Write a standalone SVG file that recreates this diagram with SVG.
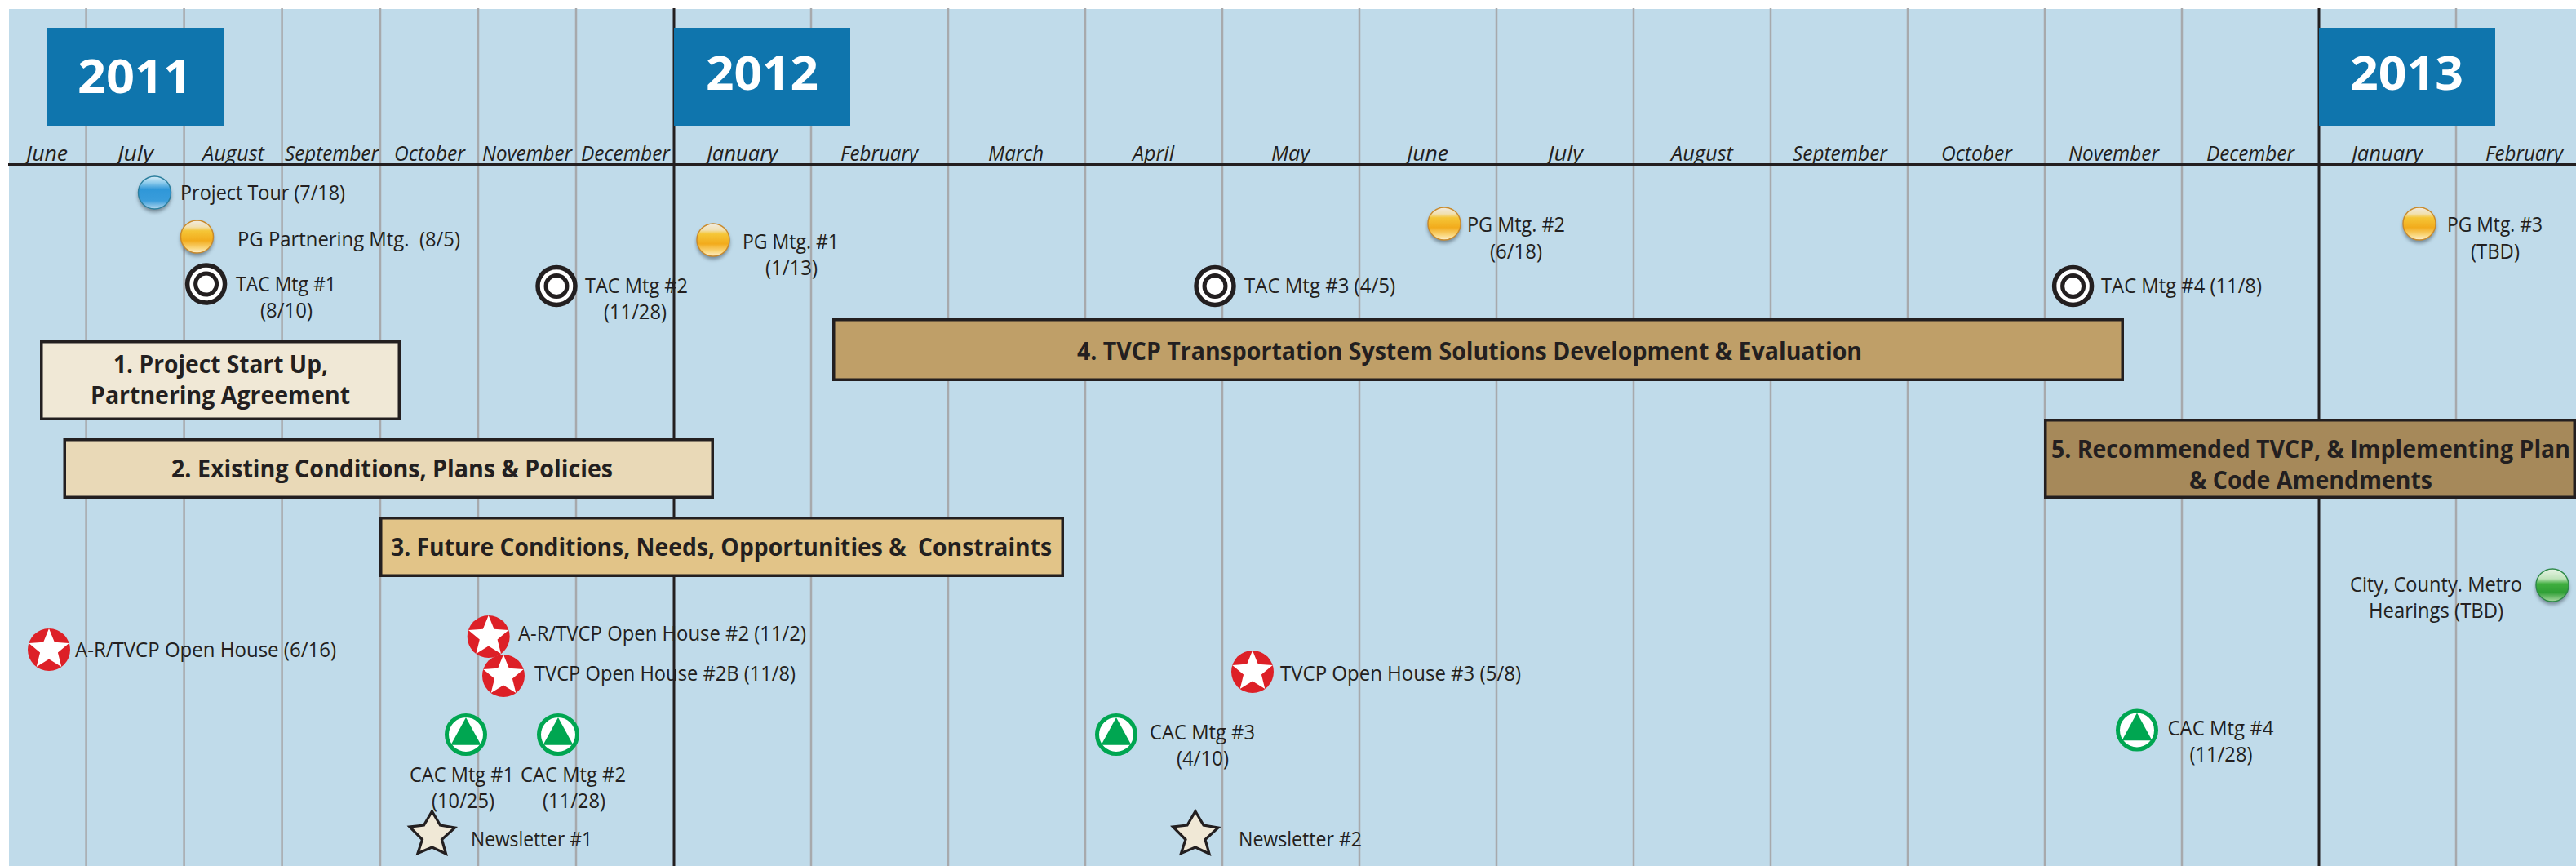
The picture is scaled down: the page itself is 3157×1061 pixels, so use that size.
<svg xmlns="http://www.w3.org/2000/svg" width="3157" height="1061" viewBox="0 0 3157 1061">
<style>
text{font-family:"Open Sans","Noto Sans","Liberation Sans",sans-serif;fill:#231f20;white-space:pre}
.l{font-size:25px}
.m{font-size:25px;font-style:italic}
.b{font-size:31px;font-weight:700}
.y{font-size:58px;font-weight:700;fill:#fff}
.g{stroke:#a7a9ac;stroke-width:2.5;fill:none}
.k{stroke:#231f20;stroke-width:3;fill:none}
.bar{stroke:#231f20;stroke-width:3.5}
.yb{fill:#0f75ad}
</style>
<defs>
<linearGradient id="gBlue" x1="0" y1="0" x2="0" y2="1"><stop offset="0" stop-color="#d8edf7"/><stop offset=".2" stop-color="#8ccbec"/><stop offset=".4" stop-color="#2f97d8"/><stop offset=".75" stop-color="#3a9ddb"/><stop offset="1" stop-color="#b4d8ee"/></linearGradient>
<linearGradient id="gOrange" x1="0" y1="0" x2="0" y2="1"><stop offset="0" stop-color="#f1ebe0"/><stop offset=".2" stop-color="#f1e0b0"/><stop offset=".32" stop-color="#f5c637"/><stop offset=".62" stop-color="#f2ab1c"/><stop offset=".85" stop-color="#fad67a"/><stop offset="1" stop-color="#fdf0cf"/></linearGradient>
<linearGradient id="gGreen" x1="0" y1="0" x2="0" y2="1"><stop offset="0" stop-color="#e8f4e6"/><stop offset=".3" stop-color="#bfe3ba"/><stop offset=".46" stop-color="#3fae3f"/><stop offset=".72" stop-color="#2f9f35"/><stop offset="1" stop-color="#a9d9a2"/></linearGradient>
<filter id="sh" x="-40%" y="-40%" width="180%" height="180%"><feGaussianBlur stdDeviation="2.2"/></filter>
<g id="ballShadow"><circle cx="0" cy="3.5" r="20.5" fill="#4a5a66" opacity=".6" filter="url(#sh)"/></g>
<g id="ballBlue"><use href="#ballShadow"/><circle r="20" fill="url(#gBlue)" stroke="#2b7f9e" stroke-width="1.4"/></g>
<g id="ballOrange"><use href="#ballShadow"/><circle r="20" fill="url(#gOrange)" stroke="#c98a2b" stroke-width="1.4"/></g>
<g id="ballGreen"><use href="#ballShadow"/><circle r="20" fill="url(#gGreen)" stroke="#2e8a48" stroke-width="1.4"/></g>
<g id="tac"><circle r="23" fill="#fff" stroke="#231f20" stroke-width="5.5"/><circle r="13" fill="#fff" stroke="#231f20" stroke-width="5"/></g>
<g id="oh"><circle r="26" fill="#dd2027"/><polygon fill="#fff" points="0,-26 6.8,-9.3 24.7,-8 10.9,3.6 15.3,21 0,11.5 -15.3,21 -10.9,3.6 -24.7,-8 -6.8,-9.3"/></g>
<g id="cac"><circle r="23.5" fill="#fff" stroke="#00a651" stroke-width="5"/><polygon fill="#00a651" points="0,-21 18.5,12.7 -18.5,12.7"/></g>
<polygon id="news" fill="#f0e8d6" stroke="#231f20" stroke-width="3.2" points="0,-26 10,-9 28,-6 12,8.5 17,26 0,18 -17.5,25.5 -12,8.5 -27.5,-7 -10,-9"/>
</defs>
<g id="background"><rect x="11" y="11" width="3146" height="1050" fill="#c0dbea"/></g>
<g id="grid">
<path class="g" d="M105.6 10V1061M225.6 10V1061M345.6 10V1061M466 10V1061M586 10V1061M706 10V1061M994 10V1061M1162 10V1061M1330 10V1061M1498 10V1061M1666 10V1061M1834 10V1061M2002 10V1061M2170 10V1061M2338 10V1061M2506 10V1061M2674 10V1061M3010 10V1061"/>
<path class="k" d="M826 10V1061M2842 10V1061"/>
<path class="k" stroke-width="3.5" d="M10 201.5H3157"/>
</g>
<g id="years">
<g id="year-2011"><rect class="yb" x="58" y="34" width="216" height="120"/><text class="y" x="95" y="114" textLength="140" lengthAdjust="spacingAndGlyphs">2011</text></g>
<g id="year-2012"><rect class="yb" x="826" y="34" width="216" height="120"/><text class="y" x="865" y="110" textLength="138" lengthAdjust="spacingAndGlyphs">2012</text></g>
<g id="year-2013"><rect class="yb" x="2842" y="34" width="216" height="120"/><text class="y" x="2880" y="110" textLength="139" lengthAdjust="spacingAndGlyphs">2013</text></g>
</g>
<g id="months">
<text class="m" x="32" y="197" textLength="51" lengthAdjust="spacingAndGlyphs">June</text>
<text class="m" x="144" y="197" textLength="44" lengthAdjust="spacingAndGlyphs">July</text>
<text class="m" x="248" y="197" textLength="76" lengthAdjust="spacingAndGlyphs">August</text>
<text class="m" x="349" y="197" textLength="115" lengthAdjust="spacingAndGlyphs">September</text>
<text class="m" x="483" y="197" textLength="87" lengthAdjust="spacingAndGlyphs">October</text>
<text class="m" x="591" y="197" textLength="110" lengthAdjust="spacingAndGlyphs">November</text>
<text class="m" x="712" y="197" textLength="109" lengthAdjust="spacingAndGlyphs">December</text>
<text class="m" x="866" y="197" textLength="87" lengthAdjust="spacingAndGlyphs">January</text>
<text class="m" x="1030" y="197" textLength="95" lengthAdjust="spacingAndGlyphs">February</text>
<text class="m" x="1211" y="197" textLength="68" lengthAdjust="spacingAndGlyphs">March</text>
<text class="m" x="1388" y="197" textLength="51" lengthAdjust="spacingAndGlyphs">April</text>
<text class="m" x="1558" y="197" textLength="47" lengthAdjust="spacingAndGlyphs">May</text>
<text class="m" x="1724" y="197" textLength="51" lengthAdjust="spacingAndGlyphs">June</text>
<text class="m" x="1897" y="197" textLength="43" lengthAdjust="spacingAndGlyphs">July</text>
<text class="m" x="2048" y="197" textLength="76" lengthAdjust="spacingAndGlyphs">August</text>
<text class="m" x="2197" y="197" textLength="116" lengthAdjust="spacingAndGlyphs">September</text>
<text class="m" x="2379" y="197" textLength="87" lengthAdjust="spacingAndGlyphs">October</text>
<text class="m" x="2535" y="197" textLength="111" lengthAdjust="spacingAndGlyphs">November</text>
<text class="m" x="2704" y="197" textLength="108" lengthAdjust="spacingAndGlyphs">December</text>
<text class="m" x="2882" y="197" textLength="87" lengthAdjust="spacingAndGlyphs">January</text>
<text class="m" x="3046" y="197" textLength="95" lengthAdjust="spacingAndGlyphs">February</text>
</g>
<g id="project-tour"><use href="#ballBlue" x="189.5" y="236"/><text class="l" x="221" y="245" textLength="202" lengthAdjust="spacingAndGlyphs">Project Tour (7/18)</text></g>
<g id="pg-partnering"><use href="#ballOrange" x="241.5" y="290"/><text class="l" x="291" y="302" textLength="273" lengthAdjust="spacingAndGlyphs">PG Partnering Mtg.  (8/5)</text></g>
<g id="tac-1"><use href="#tac" x="252.6" y="348"/><text class="l" x="289" y="357" textLength="123" lengthAdjust="spacingAndGlyphs">TAC Mtg #1</text><text class="l" x="319" y="389" textLength="64" lengthAdjust="spacingAndGlyphs">(8/10)</text></g>
<g id="tac-2"><use href="#tac" x="682" y="350.5"/><text class="l" x="717" y="359" textLength="126" lengthAdjust="spacingAndGlyphs">TAC Mtg #2</text><text class="l" x="740" y="391" textLength="77" lengthAdjust="spacingAndGlyphs">(11/28)</text></g>
<g id="pg-1"><use href="#ballOrange" x="874" y="294"/><text class="l" x="910" y="305" textLength="118" lengthAdjust="spacingAndGlyphs">PG Mtg. #1</text><text class="l" x="938" y="337" textLength="64" lengthAdjust="spacingAndGlyphs">(1/13)</text></g>
<g id="tac-3"><use href="#tac" x="1489" y="350.5"/><text class="l" x="1525" y="359" textLength="185" lengthAdjust="spacingAndGlyphs">TAC Mtg #3 (4/5)</text></g>
<g id="pg-2"><use href="#ballOrange" x="1770" y="274"/><text class="l" x="1798" y="284" textLength="120" lengthAdjust="spacingAndGlyphs">PG Mtg. #2</text><text class="l" x="1826" y="317" textLength="64" lengthAdjust="spacingAndGlyphs">(6/18)</text></g>
<g id="tac-4"><use href="#tac" x="2540.6" y="350.5"/><text class="l" x="2575" y="359" textLength="197" lengthAdjust="spacingAndGlyphs">TAC Mtg #4 (11/8)</text></g>
<g id="pg-3"><use href="#ballOrange" x="2965" y="274"/><text class="l" x="2999" y="284" textLength="117" lengthAdjust="spacingAndGlyphs">PG Mtg. #3</text><text class="l" x="3028" y="317" textLength="60" lengthAdjust="spacingAndGlyphs">(TBD)</text></g>
<g id="task-1"><rect class="bar" fill="#f0e8d6" x="50.75" y="418.75" width="438.5" height="94.5"/><text class="b" x="139" y="457" textLength="263" lengthAdjust="spacingAndGlyphs">1. Project Start Up,</text><text class="b" x="111" y="495" textLength="318" lengthAdjust="spacingAndGlyphs">Partnering Agreement</text></g>
<g id="task-4"><rect class="bar" fill="#bf9f68" x="1021.75" y="391.75" width="1579.5" height="73.5"/><text class="b" x="1320" y="441" textLength="962" lengthAdjust="spacingAndGlyphs">4. TVCP Transportation System Solutions Development &amp; Evaluation</text></g>
<g id="task-2"><rect class="bar" fill="#e9d9b7" x="79.25" y="538.75" width="794" height="70.5"/><text class="b" x="210" y="585" textLength="541" lengthAdjust="spacingAndGlyphs">2. Existing Conditions, Plans &amp; Policies</text></g>
<g id="task-3"><rect class="bar" fill="#e2c488" x="466.75" y="634.75" width="835.5" height="70.5"/><text class="b" x="479" y="680.5" textLength="810" lengthAdjust="spacingAndGlyphs">3. Future Conditions, Needs, Opportunities &amp;  Constraints</text></g>
<g id="task-5"><rect class="bar" fill="#a6895a" x="2506.75" y="514.75" width="648.5" height="94.5"/><text class="b" transform="translate(2514 561) scale(.88 1)" x="0" y="0" textLength="722.7" lengthAdjust="spacingAndGlyphs">5. Recommended TVCP, &amp; Implementing Plan</text><text class="b" x="2683" y="599" textLength="298" lengthAdjust="spacingAndGlyphs">&amp; Code Amendments</text></g>
<g id="hearings"><use href="#ballGreen" x="3128" y="717"/><text class="l" x="2880" y="725" textLength="211" lengthAdjust="spacingAndGlyphs">City, County. Metro</text><text class="l" x="2903" y="757" textLength="165" lengthAdjust="spacingAndGlyphs">Hearings (TBD)</text></g>
<g id="open-house-1"><use href="#oh" x="60" y="796"/><text class="l" x="92" y="805" textLength="320" lengthAdjust="spacingAndGlyphs">A-R/TVCP Open House (6/16)</text></g>
<g id="open-house-2"><use href="#oh" x="598.7" y="780"/><text class="l" x="635" y="785" textLength="353" lengthAdjust="spacingAndGlyphs">A-R/TVCP Open House #2 (11/2)</text></g>
<g id="open-house-2b"><use href="#oh" x="617" y="828"/><text class="l" x="655" y="834" textLength="320" lengthAdjust="spacingAndGlyphs">TVCP Open House #2B (11/8)</text></g>
<g id="open-house-3"><use href="#oh" x="1535" y="823"/><text class="l" x="1569" y="834" textLength="295" lengthAdjust="spacingAndGlyphs">TVCP Open House #3 (5/8)</text></g>
<g id="cac-1"><use href="#cac" x="571" y="900"/><text class="l" x="502" y="958" textLength="128" lengthAdjust="spacingAndGlyphs">CAC Mtg #1</text><text class="l" x="529" y="990" textLength="77" lengthAdjust="spacingAndGlyphs">(10/25)</text></g>
<g id="cac-2"><use href="#cac" x="684" y="900"/><text class="l" x="638" y="958" textLength="129" lengthAdjust="spacingAndGlyphs">CAC Mtg #2</text><text class="l" x="665" y="990" textLength="77" lengthAdjust="spacingAndGlyphs">(11/28)</text></g>
<g id="cac-3"><use href="#cac" x="1368" y="900"/><text class="l" x="1409" y="906" textLength="129" lengthAdjust="spacingAndGlyphs">CAC Mtg #3</text><text class="l" x="1442" y="938" textLength="64" lengthAdjust="spacingAndGlyphs">(4/10)</text></g>
<g id="cac-4"><use href="#cac" x="2619" y="894.5"/><text class="l" x="2656.5" y="901" textLength="130" lengthAdjust="spacingAndGlyphs">CAC Mtg #4</text><text class="l" x="2683.5" y="933" textLength="77" lengthAdjust="spacingAndGlyphs">(11/28)</text></g>
<g id="newsletter-1"><use href="#news" x="529.5" y="1020"/><text class="l" x="577" y="1037" textLength="149" lengthAdjust="spacingAndGlyphs">Newsletter #1</text></g>
<g id="newsletter-2"><use href="#news" x="1465" y="1020"/><text class="l" x="1518" y="1037" textLength="151" lengthAdjust="spacingAndGlyphs">Newsletter #2</text></g>
</svg>
